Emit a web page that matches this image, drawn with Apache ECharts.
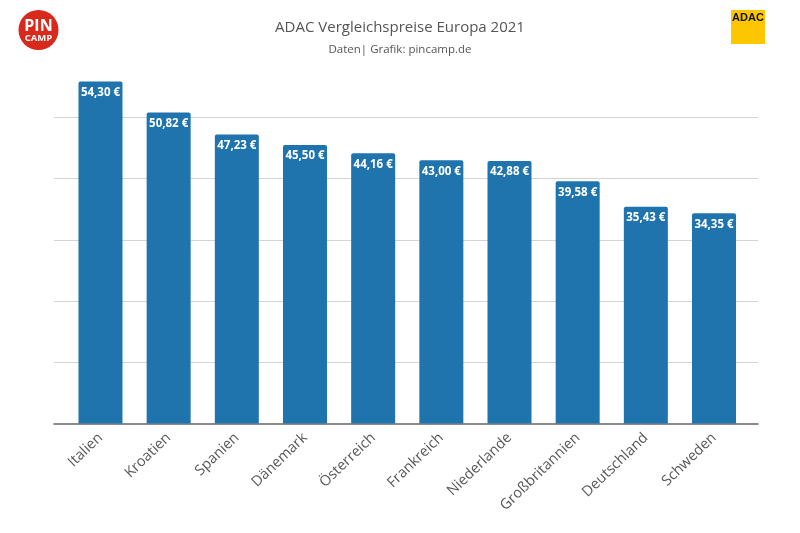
<!DOCTYPE html>
<html>
<head>
<meta charset="utf-8">
<style>
html,body{margin:0;padding:0;background:#fff;}
#chart{width:800px;height:533px;}
</style>
<script src="https://cdn.jsdelivr.net/npm/echarts@6/dist/echarts.min.js"></script>
</head>
<body>
<div id="chart"></div>
<script>
var categories = ['Italien','Kroatien','Spanien','Dänemark','Österreich','Frankreich','Niederlande','Großbritannien','Deutschland','Schweden'];
// bar heights as drawn; the Italien bar is taller in the picture than its printed 54,30
var barValues = [55.9,50.82,47.23,45.50,44.16,43.00,42.88,39.58,35.43,34.35];
var barLabels = ['54,30 €','50,82 €','47,23 €','45,50 €','44,16 €','43,00 €','42,88 €','39,58 €','35,43 €','34,35 €'];
var titleText = 'ADAC Vergleichspreise Europa 2021';
var subtitleText = 'Daten| Grafik: pincamp.de';

var fontName = '"Open Sans", "Noto Sans", sans-serif';
var myChart = echarts.init(document.getElementById('chart'));

var option = {
    backgroundColor: '#fff',
    animation: false,
    title: [{
        text: titleText,
        left: 'center',
        top: 15,
        textStyle: {color: '#555', fontSize: 15, fontWeight: 'normal', fontFamily: fontName}
    }, {
        text: subtitleText,
        left: 'center',
        top: 39,
        textStyle: {color: '#555', fontSize: 11.5, fontWeight: 'normal', fontFamily: fontName}
    }],
    grid: [
        {left: 54, right: 42, top: 56.3, bottom: 109.5},//gridlines and baseline, wider than the bars
        {left: 66.4, width: 681.7, top: 56.3, bottom: 109.5}
    ],
    xAxis: [{
        gridIndex: 0,
        type: 'value',
        min: 0,
        max: 1,
        axisLine: {show: true, lineStyle: {color: '#666', width: 1.5}},
        axisTick: {show: false},
        axisLabel: {show: false},
        splitLine: {show: false}
    }, {
        gridIndex: 1,
        type: 'category',
        data: categories,
        axisLine: {show: false},
        axisTick: {show: false},
        axisLabel: {
            interval: 0,
            rotate: 44,
            margin: 12,
            color: '#595959',
            fontSize: 14.5,
            fontFamily: fontName
        }
    }],
    yAxis: [{
        gridIndex: 0,
        type: 'value',
        min: 0,
        max: 60,
        interval: 10,
        axisLine: {show: false},
        axisTick: {show: false},
        axisLabel: {show: false},
        splitLine: {show: true, showMinLine: false, showMaxLine: false, lineStyle: {color: '#d4d4d4', width: 1}}
    }, {
        gridIndex: 1,
        type: 'value',
        min: 0,
        max: 60,
        interval: 10,
        axisLine: {show: false},
        axisTick: {show: false},
        axisLabel: {show: false},
        splitLine: {show: false}
    }],
    series: [{
        type: 'bar',
        xAxisIndex: 1,
        yAxisIndex: 1,
        data: barValues,
        barWidth: 44,
        itemStyle: {color: '#1f74ae', borderRadius: [2, 2, 0, 0]},
        label: {
            show: true,
            position: 'insideTop',
            distance: 5,
            color: '#fff',
            fontSize: 11.5,
            fontWeight: 'bold',
            fontFamily: fontName,
            formatter: function (p) {
                return barLabels[p.dataIndex];
            }
        }
    }],
    graphic: [
        {type: 'circle', shape: {cx: 38.5, cy: 30, r: 20}, style: {fill: '#d9291c'}},
        {type: 'text', style: {x: 38.5, y: 26, text: 'PIN', fill: '#fff', font: 'bold 16px ' + fontName, textAlign: 'center', textVerticalAlign: 'middle'}},
        {type: 'text', style: {x: 38.5, y: 38, text: 'CAMP', fill: '#fff', font: 'bold 9.5px ' + fontName, textAlign: 'center', textVerticalAlign: 'middle'}},
        {type: 'rect', shape: {x: 731, y: 10, width: 34, height: 34}, style: {fill: '#fdc700'}},
        {type: 'text', style: {x: 748, y: 18, text: 'ADAC', fill: '#111', font: 'bold 11px "Liberation Sans", sans-serif', textAlign: 'center', textVerticalAlign: 'middle'}}
    ]
};

myChart.setOption(option);
</script>
</body>
</html>
